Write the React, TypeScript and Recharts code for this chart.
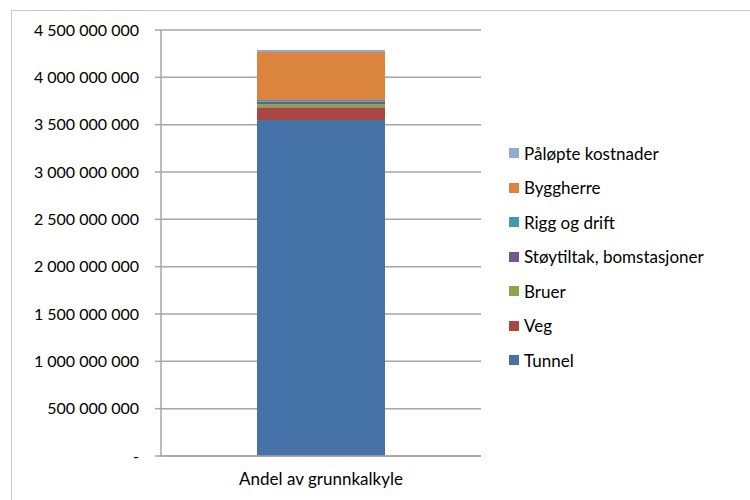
import { Bar, BarChart, CartesianGrid, XAxis, YAxis } from "recharts"

const categories = ["Andel av grunnkalkyle"]

// cost components, bottom to top of the stack (NOK)
const tunnel = [3550000000]
const veg = [134000000]
const bruer = [34000000]
const stoytiltak = [25000000]
const riggOgDrift = [18000000]
const byggherre = [507000000]
const palopteKostnader = [21000000]

const yTicks = [0, 500000000, 1000000000, 1500000000, 2000000000, 2500000000, 3000000000, 3500000000, 4000000000, 4500000000]

const series = [
  { key: "tunnel", name: "Tunnel", color: "#4572A7", values: tunnel },
  { key: "veg", name: "Veg", color: "#AA4643", values: veg },
  { key: "bruer", name: "Bruer", color: "#89A54E", values: bruer },
  { key: "stoy", name: "Støytiltak, bomstasjoner", color: "#71588F", values: stoytiltak },
  { key: "rigg", name: "Rigg og drift", color: "#4198AF", values: riggOgDrift },
  { key: "byggherre", name: "Byggherre", color: "#DB843D", values: byggherre },
  { key: "palopte", name: "Påløpte kostnader", color: "#93A9CF", values: palopteKostnader },
]

const data = categories.map((name, i) => {
  const row: Record<string, string | number> = { name }
  series.forEach((s) => {
    row[s.key] = s.values[i]
  })
  return row
})

const font = "Lato, 'Open Sans', sans-serif"
const gridColor = "#a6a6a6"

const formatTick = (v: number) =>
  v === 0 ? "-" : String(v).replace(/\B(?=(\d{3})+(?!\d))/g, " ")

// legend lists the stack top-down, like the bar itself
function SideLegend() {
  const items = [...series].reverse()
  return (
    <div style={{ position: "absolute", left: 509, top: 136, fontFamily: font, fontSize: 17, color: "#000" }}>
      {items.map((s) => (
        <div key={s.key} style={{ display: "flex", alignItems: "center", height: 34.5 }}>
          <span style={{ width: 10, height: 10, background: s.color, marginRight: 5 }} />
          <span>{s.name}</span>
        </div>
      ))}
    </div>
  )
}

export default function App() {
  return (
    <div style={{ position: "absolute", left: 0, top: 0, width: 750, height: 500, overflow: "hidden", background: "#fff" }}>
      <div
        style={{
          position: "absolute",
          left: 11,
          top: 10,
          width: 800,
          height: 600,
          border: "1px solid #c9c9c9",
        }}
      />
      <div style={{ position: "absolute", left: 0, top: 0 }}>
        <BarChart
          width={750}
          height={500}
          data={data}
          margin={{ top: 30, right: 269, bottom: 13, left: 0 }}
          barCategoryGap="30%"
        >
          <CartesianGrid vertical={false} stroke={gridColor} strokeWidth={1.5} />
          <XAxis
            dataKey="name"
            height={1}
            tickLine={false}
            axisLine={{ stroke: gridColor, strokeWidth: 1.5 }}
            tickMargin={11}
            tick={{ fill: "#000", fontSize: 17, fontFamily: font }}
          />
          {/* numeric helper axis: tick marks at both plot edges, just under the category axis */}
          <XAxis
            xAxisId="edges"
            type="number"
            domain={[0, 1]}
            ticks={[0, 1]}
            tick={false}
            tickSize={6}
            axisLine={false}
            tickLine={{ stroke: gridColor, strokeWidth: 1.5 }}
            height={30}
          />
          <YAxis
            width={161}
            domain={[0, 4500000000]}
            ticks={yTicks}
            interval={0}
            tickFormatter={formatTick}
            tickSize={6}
            tickMargin={16}
            axisLine={{ stroke: gridColor, strokeWidth: 1.5 }}
            tickLine={{ stroke: gridColor, strokeWidth: 1.5 }}
            tick={{ fill: "#000", fontSize: 16, fontFamily: font }}
          />
          {series.map((s) => (
            <Bar
              key={s.key}
              dataKey={s.key}
              name={s.name}
              stackId="cost"
              fill={s.color}
              isAnimationActive={false}
            />
          ))}
        </BarChart>
      </div>
      <SideLegend />
    </div>
  )
}
